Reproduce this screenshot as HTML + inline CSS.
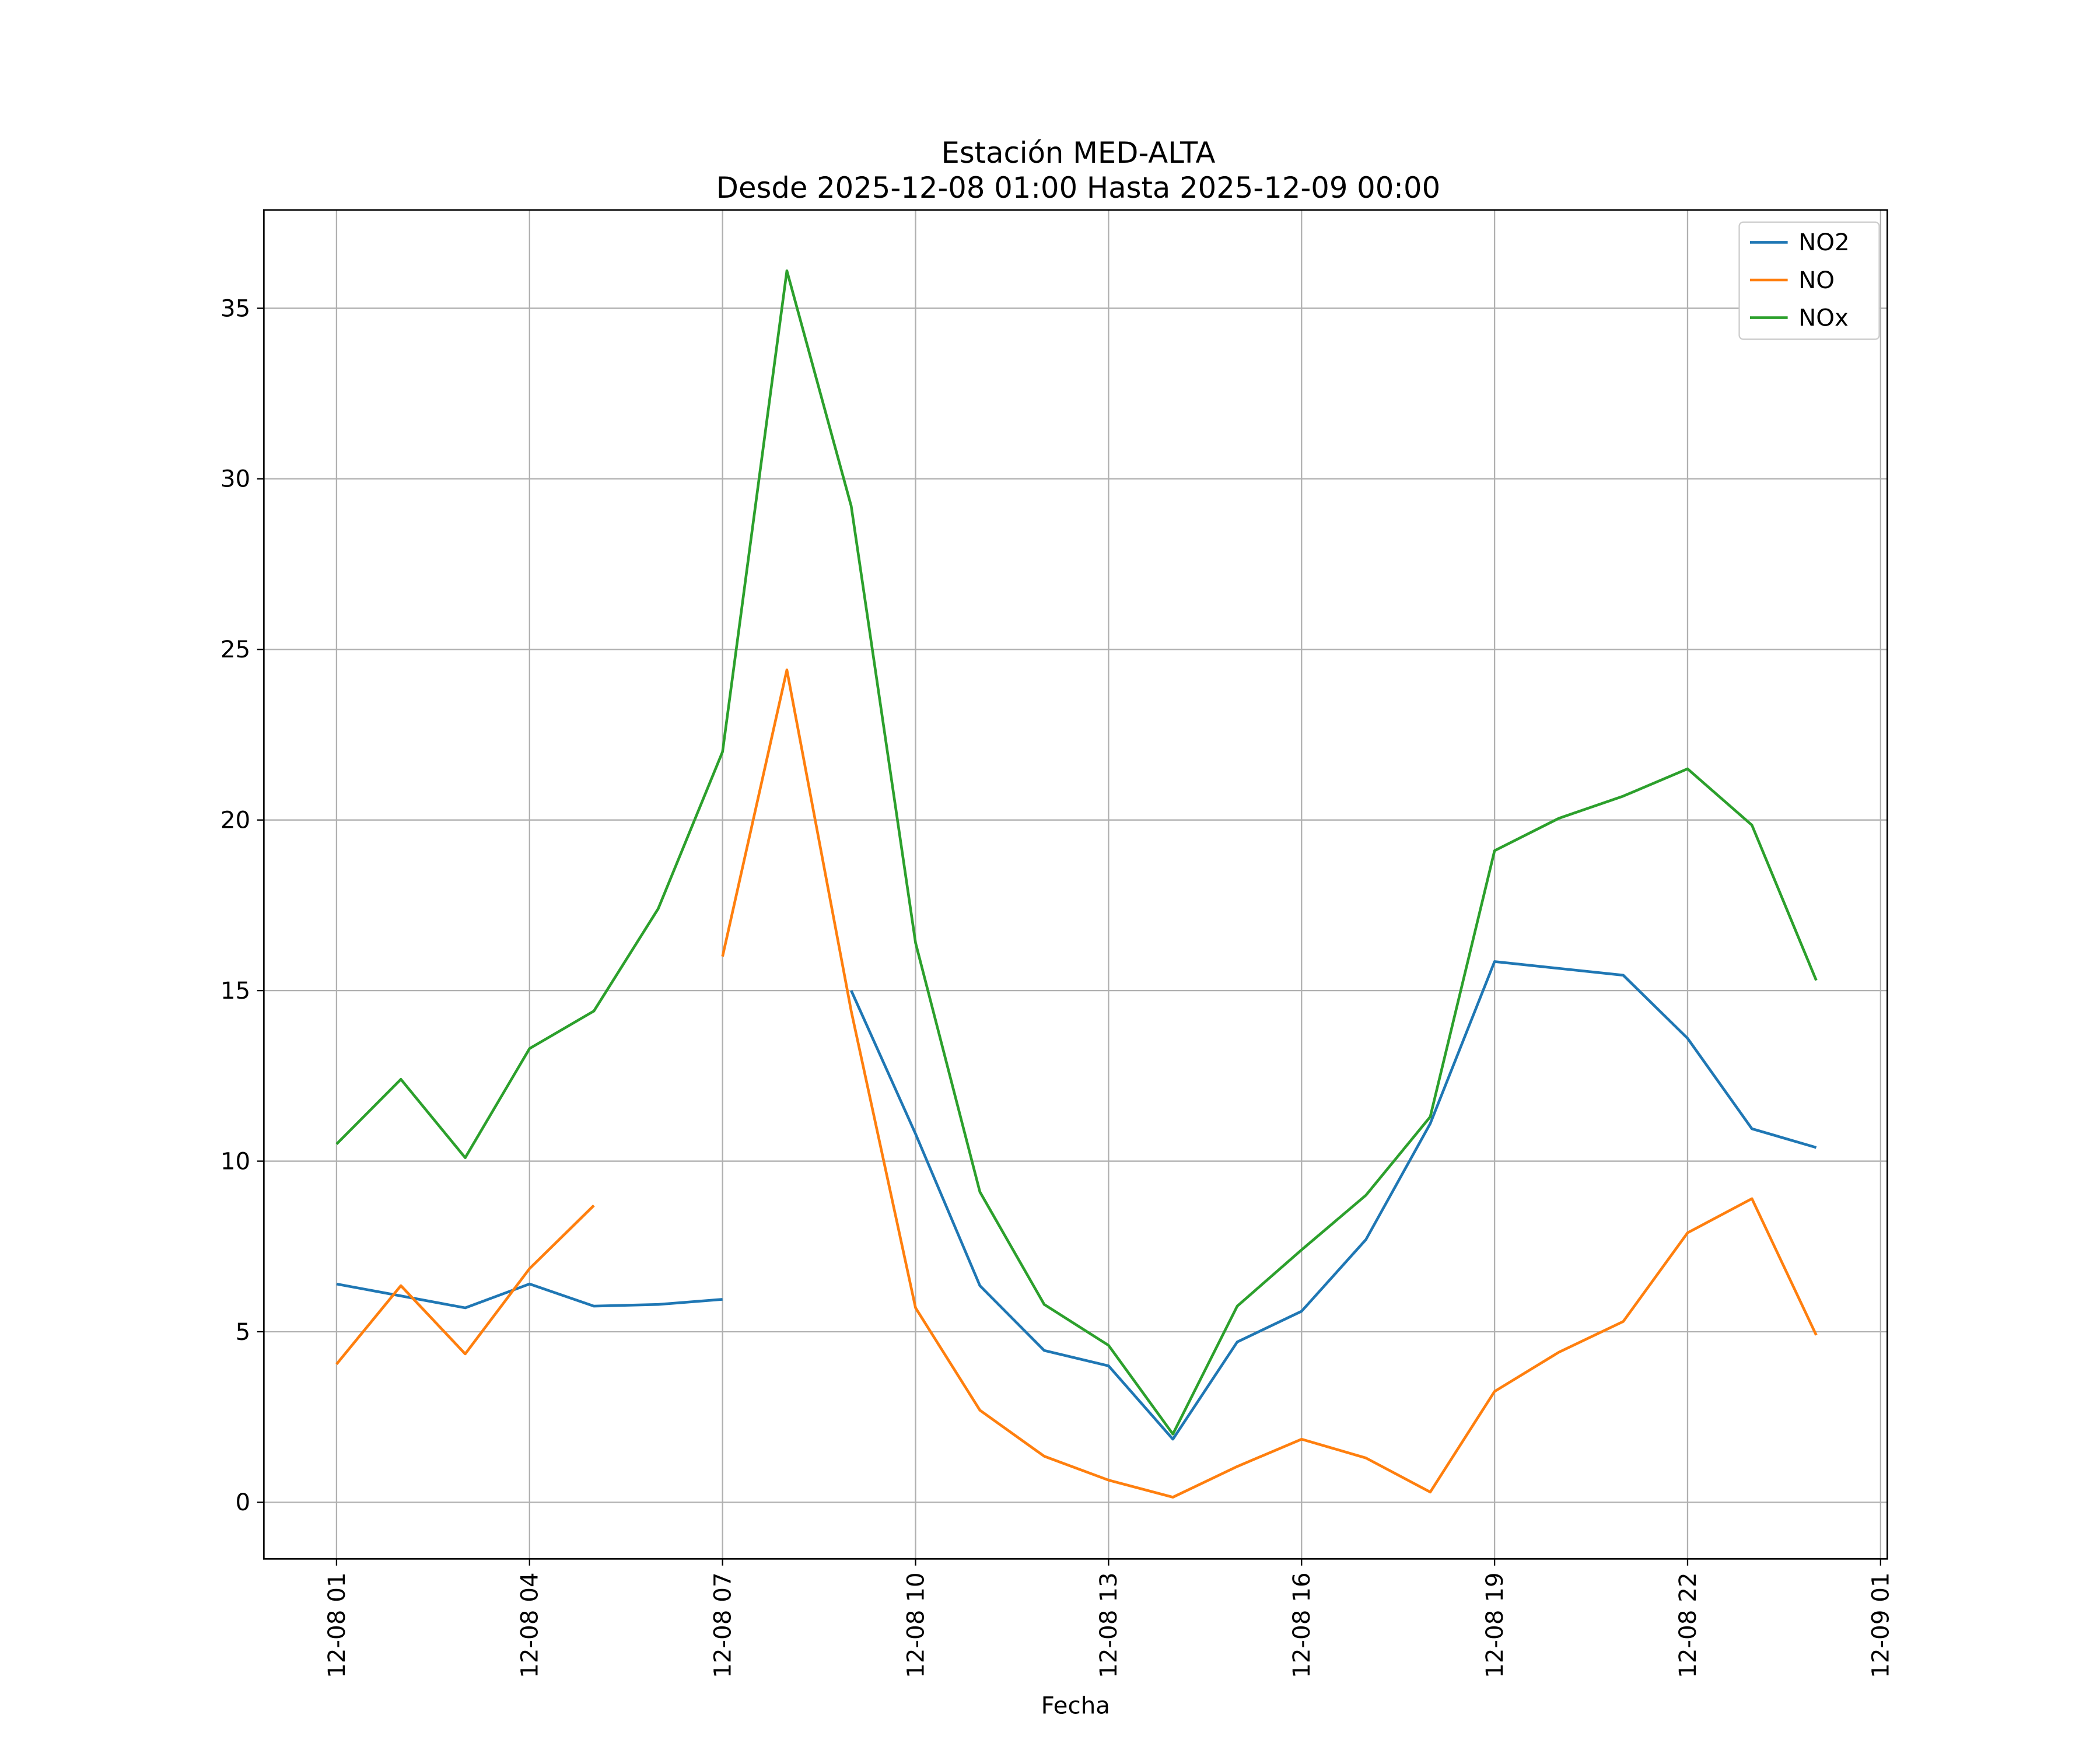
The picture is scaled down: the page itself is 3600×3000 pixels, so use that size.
<!DOCTYPE html>
<html><head><meta charset="utf-8"><style>html,body{margin:0;padding:0;background:#fff}svg{display:block}</style></head>
<body>
<svg id="chart" width="3600" height="3000" viewBox="0 0 1560 1300" xmlns="http://www.w3.org/2000/svg" font-family="'DejaVu Sans','Liberation Sans',sans-serif">
<rect width="1560" height="1300" fill="#fff"/>
<g id="grid"></g>
<g id="series"></g>
<rect x="196" y="156" width="1206" height="1002" fill="none" stroke="#000" stroke-width="1.2"/>
<g id="axes"></g>
<text x="801" y="121" font-size="21.5" text-anchor="middle">Estación MED-ALTA</text>
<text x="801" y="147" font-size="21.5" text-anchor="middle">Desde 2025-12-08 01:00 Hasta 2025-12-09 00:00</text>
<text x="799" y="1273" font-size="17.5" text-anchor="middle">Fecha</text>
<g transform="translate(-6,-1)">
<rect x="1298" y="166" width="104" height="87" fill="#fff" stroke="#ccc" rx="3"/>
<g><line x1="1306" y1="181" x2="1334" y2="181" stroke="#1f77b4" stroke-width="2"/><text x="1342" y="187" font-size="17.5">NO2</text></g>
<g><line x1="1306" y1="209" x2="1334" y2="209" stroke="#ff7f0e" stroke-width="2"/><text x="1342" y="215" font-size="17.5">NO</text></g>
<g><line x1="1306" y1="237" x2="1334" y2="237" stroke="#2ca02c" stroke-width="2"/><text x="1342" y="243" font-size="17.5">NOx</text></g>
</g>
</svg>
<script>
const hours=[1,2,3,4,5,6,7,8,9,10,11,12,13,14,15,16,17,18,19,20,21,22,23,24];
const no2=[6.4,6.05,5.7,6.4,5.75,5.8,5.95,null,15,10.8,6.35,4.45,4.0,1.85,4.7,5.6,7.7,11.1,15.85,15.65,15.45,13.6,10.95,10.4];
const no=[4.05,6.35,4.35,6.85,8.7,null,16.0,24.4,14.4,5.7,2.7,1.35,0.65,0.15,1.05,1.85,1.3,0.3,3.25,4.4,5.3,7.9,8.9,4.9];
const nox=[10.5,12.4,10.1,13.3,14.4,17.4,22,36.1,29.2,16.4,9.1,5.8,4.6,2.0,5.75,7.4,9.0,11.3,19.1,20.05,20.7,21.5,19.85,15.3];
const yTicks=[0,5,10,15,20,25,30,35];
const xTickHours=[1,4,7,10,13,16,19,22,25];
const xTickLabels=["12-08 01","12-08 04","12-08 07","12-08 10","12-08 13","12-08 16","12-08 19","12-08 22","12-09 01"];
const NS="http://www.w3.org/2000/svg";
const xs=h=>250+(h-1)*(1397-250)/24;
const ys=v=>1116-v*(1116-229)/35;
function mk(tag,attrs,parent){const e=document.createElementNS(NS,tag);for(const k in attrs)e.setAttribute(k,attrs[k]);parent.appendChild(e);return e;}
const grid=document.getElementById('grid'),axes=document.getElementById('axes'),ser=document.getElementById('series');
yTicks.forEach(v=>{const y=ys(v);
 const g=mk('line',{x1:196,x2:1402,y1:y,y2:y,stroke:'#b0b0b0','stroke-width':1},grid);
 
 
 const t=mk('line',{x1:191,x2:196,y1:y,y2:y,stroke:'#000'},axes);
 
 
 const l=mk('text',{x:186,y:y+6,'font-size':17.5,'text-anchor':'end'},axes);l.textContent=v;
 
 
});
xTickHours.forEach((h,i)=>{const x=xs(h);
 const g=mk('line',{x1:x,x2:x,y1:156,y2:1158,stroke:'#b0b0b0','stroke-width':1},grid);
 
 
 const t=mk('line',{x1:x,x2:x,y1:1158,y2:1163,stroke:'#000'},axes);
 
 
 const l=mk('text',{x:x+6,y:1168,'font-size':17.5,'text-anchor':'end',transform:`rotate(-90 ${x+6} 1168)`},axes);l.textContent=xTickLabels[i];
 
 
});
function draw(vals,color,name){let segs=[],cur=[];
 vals.forEach((v,i)=>{if(v===null){if(cur.length)segs.push(cur);cur=[];}else cur.push(xs(hours[i])+','+ys(v));});
 if(cur.length)segs.push(cur);
 segs.forEach(s=>{const p=mk('polyline',{points:s.join(' '),fill:'none',stroke:color,'stroke-width':2,'stroke-linejoin':'round'},ser);
  
  });
}
draw(no2,'#1f77b4','no2-line');
draw(no,'#ff7f0e','no-line');
draw(nox,'#2ca02c','nox-line');
</script>
</body></html>
